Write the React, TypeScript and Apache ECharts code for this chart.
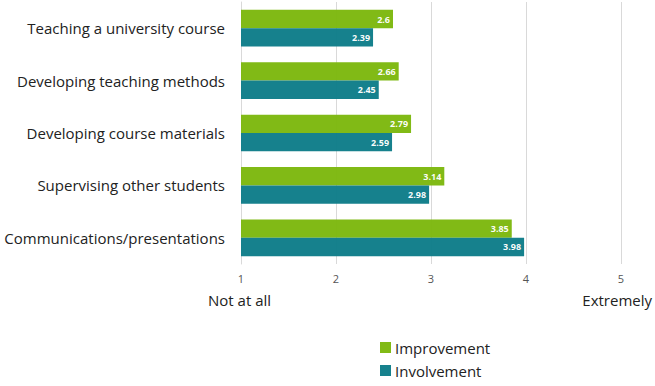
import React, { useEffect, useRef } from "react";
import * as echarts from "echarts";

const categories = [
  "Teaching a university course",
  "Developing teaching methods",
  "Developing course materials",
  "Supervising other students",
  "Communications/presentations",
];
const improvement = [2.6, 2.66, 2.79, 3.14, 3.85];
const involvement = [2.39, 2.45, 2.59, 2.98, 3.98];
const seriesNames = ["Improvement", "Involvement"];
const colors = ["#7DB80E", "#0E7D89"];

export default function App() {
  const ref = useRef<HTMLDivElement>(null);
  useEffect(() => {
    document.body.style.margin = "0";
    const chart = echarts.init(ref.current!, null, { renderer: "svg" });
    const font = "Open Sans";
    const label = {
      show: true,
      position: "insideRight" as const,
      color: "#fff",
      fontSize: 9,
      fontWeight: "bold" as const,
      fontFamily: font,
      distance: 3,
    };
    chart.setOption({
      animation: false,
      color: colors,
      grid: { left: 241, right: 34, top: 2, bottom: 122, containLabel: false },
      legend: {
        orient: "vertical",
        left: 380,
        top: 340,
        padding: 0,
        itemWidth: 11,
        itemHeight: 11,
        itemGap: 8,
        icon: "rect",
        textStyle: { fontSize: 15, color: "#222", fontFamily: font, padding: [0, 0, 0, -1] },
        data: seriesNames,
      },
      xAxis: {
        type: "value",
        min: 1,
        max: 5,
        interval: 1,
        axisLine: { show: false },
        axisTick: { show: false },
        splitLine: { lineStyle: { color: "#d9d9d9" } },
        axisLabel: { color: "#555", fontSize: 11, fontFamily: font, margin: 9 },
      },
      yAxis: {
        type: "category",
        data: categories,
        inverse: true,
        axisLine: { lineStyle: { color: "#d9d9d9" } },
        axisTick: { show: false },
        axisLabel: { color: "#222", fontSize: 15, fontFamily: font, margin: 16 },
      },
      series: [
        {
          name: seriesNames[0],
          type: "bar",
          data: improvement,
          barGap: "0%",
          barCategoryGap: "30%",
          label,
          itemStyle: { opacity: 0.97 },
        },
        {
          name: seriesNames[1],
          type: "bar",
          data: involvement,
          label,
          itemStyle: { opacity: 0.97 },
        },
      ],
      graphic: [
        {
          type: "text",
          left: 208,
          top: 292,
          style: { text: "Not at all", fontSize: 15, fill: "#222", fontFamily: font },
        },
        {
          type: "text",
          right: 3,
          top: 292,
          style: { text: "Extremely", fontSize: 15, fill: "#222", fontFamily: font },
        },
      ],
    });
    return () => chart.dispose();
  }, []);
  return <div ref={ref} style={{ width: 655, height: 386 }} />;
}
